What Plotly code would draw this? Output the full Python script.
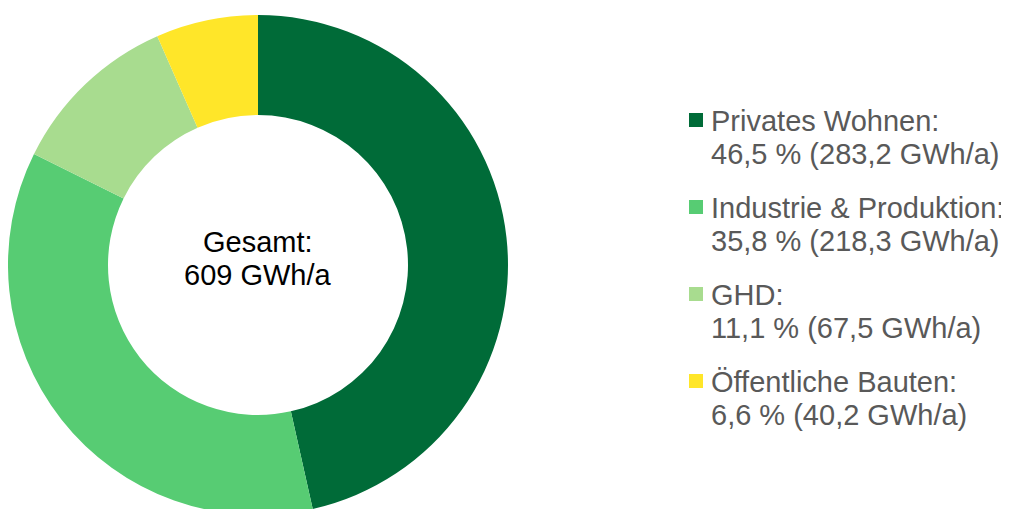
import plotly.graph_objects as go

W, H = 1009, 509
OFF = 8  # body margin of the html page

# Verbrauch nach Sektoren (GWh/a)
labels = ["Privates Wohnen", "Industrie & Produktion", "GHD", "Öffentliche Bauten"]
values = [283.2, 218.3, 67.5, 40.2]
shares = [46.5, 35.8, 11.1, 6.6]
colors = ["#006b38", "#57cc73", "#a8dc8f", "#ffe629"]
total_label = "609 GWh/a"


def de_num(v):
    return f"{v:.1f}".replace(".", ",")


def px_x(x):
    # screen pixel -> paper x
    return (x - OFF) / W


def px_y(y):
    # screen pixel (from top) -> paper y
    return 1 - (y - OFF) / H


fig = go.Figure(go.Pie(
    labels=labels,
    values=values,
    hole=0.6,
    sort=False,
    direction="clockwise",
    rotation=0,
    marker=dict(colors=colors, line=dict(width=0)),
    textinfo="none",
    hoverinfo="label+value+percent",
    showlegend=False,
    domain=dict(x=[px_x(8), px_x(508)], y=[px_y(515), px_y(15)]),
))

font_main = "Liberation Sans, Arial, sans-serif"

# Mitte: Gesamtverbrauch
for i, line in enumerate(["Gesamt:", total_label]):
    fig.add_annotation(
        x=px_x(258), y=px_y(242 + 33 * i), xref="paper", yref="paper",
        text=line, showarrow=False, xanchor="center", yanchor="middle",
        font=dict(size=29, color="black", family=font_main),
    )

# Legende rechts
for i, (lab, s, v, c) in enumerate(zip(labels, shares, values, colors)):
    y0 = 120 + 87 * i
    fig.add_shape(
        type="rect", xref="paper", yref="paper",
        x0=px_x(689), x1=px_x(703), y0=px_y(y0 - 7), y1=px_y(y0 + 7),
        fillcolor=c, line=dict(width=0),
    )
    for j, line in enumerate([f"{lab}:", f"{de_num(s)} % ({de_num(v)} GWh/a)"]):
        fig.add_annotation(
            x=px_x(709), y=px_y(y0 + 1 + 33 * j), xref="paper", yref="paper",
            text=line, showarrow=False, xanchor="left", yanchor="middle",
            font=dict(size=29, color="#595959", family=font_main),
        )

fig.update_layout(
    width=W, height=H,
    margin=dict(l=0, r=0, t=0, b=0),
    paper_bgcolor="white",
    font=dict(family=font_main),
)

fig.write_html("out.html")
